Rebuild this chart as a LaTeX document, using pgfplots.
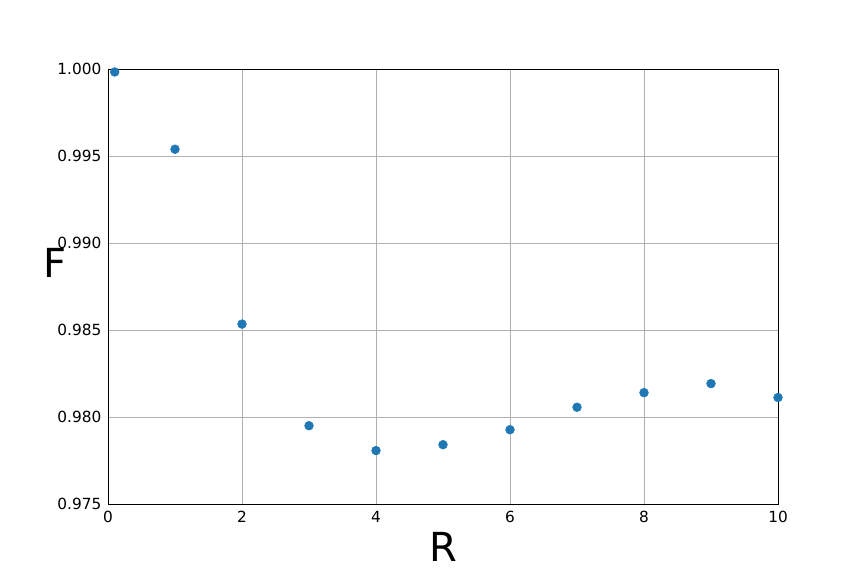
\documentclass[border=0pt]{standalone}
\usepackage{pgfplots}
\pgfplotsset{compat=1.18}
\usepackage{fontspec}
\setmainfont{DejaVu Sans}
\definecolor{mplblue}{HTML}{1F77B4}
\definecolor{gridgray}{HTML}{B0B0B0}

\begin{document}
\begin{tikzpicture}
    % page = 864x576 px at 0.75pt per px
    \path[use as bounding box] (-81pt,-54pt) rectangle (567pt,378pt);
    \begin{axis}[
        at={(0pt,0pt)},
        anchor=south west,
        scale only axis,
        width=502.5pt,
        height=326.25pt,
        xmin=0, xmax=10,
        ymin=0.975, ymax=1.0,
        xtick={0,2,4,6,8,10},
        ytick={0.975,0.980,0.985,0.990,0.995,1.000},
        yticklabel style={/pgf/number format/fixed, /pgf/number format/fixed zerofill, /pgf/number format/precision=3, xshift=-1.5pt},
        /pgf/number format/assume math mode=true,
        scaled y ticks=false,
        tick label style={font=\fontsize{11.5}{13}\selectfont},
        major tick length=0pt,
        xticklabel style={yshift=-2pt},
        grid=major,
        major grid style={gridgray, line width=0.6pt},
        axis line style={black, line width=0.6pt},
        xlabel={R},
        ylabel={F},
        label style={font=\fontsize{30}{34}\selectfont},
        xlabel style={at={(axis description cs:0.5,0)}, anchor=center, yshift=-32pt},
        ylabel style={rotate=-90, at={(axis description cs:0,0.554)}, anchor=center, xshift=-40pt},
        clip=false,
    ]
        \addplot[only marks, mark=*, mark size=3.3pt, mark options={draw=mplblue, fill=mplblue}] coordinates {
            (0.1, 0.99983) (1, 0.99539) (2, 0.98534) (3, 0.97950) (4, 0.97807)
            (5, 0.97841) (6, 0.97927) (7, 0.98056) (8, 0.98140) (9, 0.98192)
            (10, 0.98112)
        };
    \end{axis}
\end{tikzpicture}
\end{document}
